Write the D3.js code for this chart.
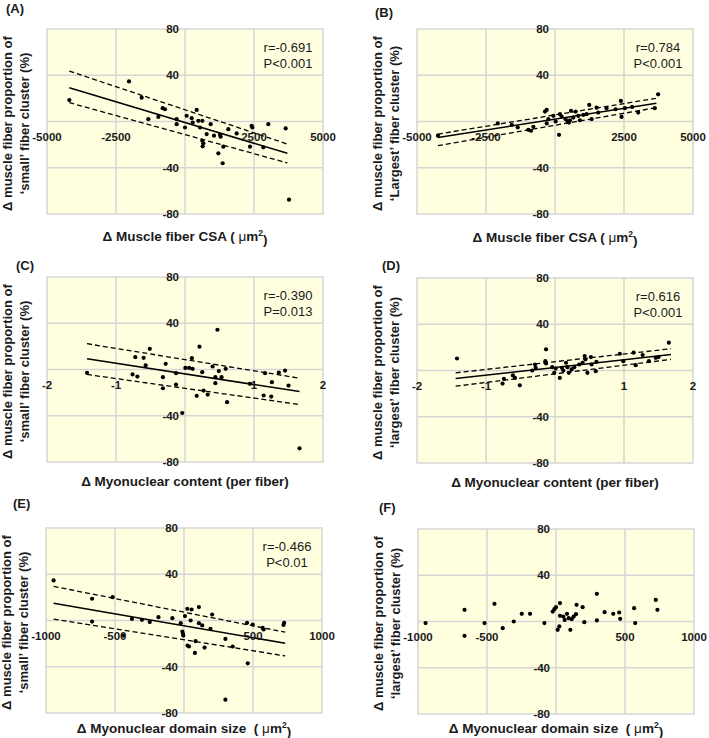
<!DOCTYPE html>
<html><head><meta charset="utf-8">
<script src="https://cdn.jsdelivr.net/npm/d3@7"></script>
<style>
html,body{margin:0;padding:0;background:#fff;}
svg text{font-family:"Liberation Sans",Arial,sans-serif;}
</style></head>
<body>
<svg id="chart" width="709" height="738"></svg>
<script>
// ---------- data ----------
const aX = [-4191,-2029,-1570,-1328,-966,-809,-725,-302,-302,0,60,242,278,423,483,543,628,785,628,664,640,930,1051,1268,1292,1389,1208,1365,1570,1872,2415,2440,2355,2838,3019,3647,3768];
const aY = [18.6,34.7,20.6,2.0,4.0,11.5,10.6,2.0,-2.3,-5.2,4.9,2.9,-0.9,10.0,0.6,-5.2,0.6,-10.9,-16.6,-18.9,-21.5,-2.3,-12.3,-11.5,-13.2,-21.8,-27.5,-36.1,-6.6,-10.3,-3.7,-5.2,-21.8,-22.3,-2.3,-6.0,-67.6];
const bX = [-4242,-2073,-1567,-1350,-964,-868,-783,-362,-301,-301,-241,-60,24,145,181,241,386,458,506,542,578,663,747,904,844,1024,1145,1241,1326,1506,1567,1868,2193,2386,2410,2531,2796,3013,3615,3736];
const bY = [-12.3,-1.7,-2.9,-5.2,-7.2,-8.0,-4.6,8.6,10.0,-1.7,2.0,4.9,0,-11.5,6.3,4.3,2.0,0,-0.9,1.1,9.2,3.4,8.6,1.1,4.9,5.7,6.3,14.3,2.0,12.0,7.7,11.5,10.6,17.8,4.0,11.5,12.6,7.7,11.5,23.5];
const cX = [-1.42,-0.76,-0.72,-0.60,-0.69,-0.57,-0.51,-0.32,-0.32,-0.28,-0.13,-0.13,-0.04,0.005,0.06,0.10,0.11,0.17,0.21,0.25,0.27,0.33,0.40,0.44,0.44,0.47,0.49,0.53,0.59,0.61,0.94,1.14,1.16,1.25,1.26,1.36,1.45,1.50,1.66];
const cY = [-2.9,-4.3,10.7,10.1,-6.1,3.5,17.9,-6.6,-16.2,4.9,-3.2,-13.0,-37.6,1.4,1.4,9.8,0.6,-22.8,19.7,-2.3,-18.2,-21.7,2.6,-6.6,-11.8,34.4,-1.4,-6.6,0.6,-28.3,-12.4,-22.5,-3.2,-23.4,-11.0,-2.6,-0.9,-13.9,-68.2];
const dX = [-1.42,-0.76,-0.74,-0.61,-0.58,-0.51,-0.29,-0.28,-0.33,-0.13,-0.14,-0.13,-0.04,-0.01,0.01,0.07,0.10,0.12,0.16,0.18,0.20,0.24,0.28,0.35,0.40,0.43,0.44,0.47,0.52,0.53,0.59,0.60,0.94,0.99,1.14,1.17,1.27,1.36,1.46,1.50,1.65];
const dY = [10.4,-11.3,-7.2,-4.3,-6.4,-12.8,5.2,2.3,0,18.3,8.1,6.1,2.9,-2.0,1.7,-6.4,2.3,0,6.7,2.9,-2.0,0.9,2.9,5.2,6.7,12.5,9.6,-2.0,11.6,5.2,-0.6,7.5,14.5,8.1,15.4,4.6,13.3,8.1,11.0,11.6,24.1];
const eX = [-945,-666,-666,-517,-440,-377,-305,-248,-185,-84,-24,-12,-7,-5,7,24,55,48,26,36,84,79,108,108,132,149,192,204,300,300,353,457,462,498,570,577,721,726];
const eY = [34.7,18.8,-0.9,20.2,-13.0,1.4,0.6,-1.4,2.9,2.0,-2.3,-9.5,-11.6,-13.0,3.8,10.1,9.5,0,-21.7,-22.5,-17.9,-28.0,11.6,-2.3,-4.3,-23.4,-7.2,5.2,-15.9,-68.5,-22.5,-2.0,-37.0,-3.5,-6.4,-7.8,-3.8,-2.0];
const fX = [-945,-663,-663,-518,-446,-386,-306,-248,-188,-84,-24,-12,0,12,24,29,29,53,63,80,92,104,113,128,145,149,193,205,296,296,352,415,458,465,566,574,723,735];
const fY = [-1.4,10.1,-12.4,-1.4,15.3,-5.8,0,6.6,6.6,-1.4,8.6,10.7,12.4,-7.2,-4.3,4.9,15.9,4.3,1.4,6.6,2.9,-7.2,2.0,4.3,6.3,14.4,12.4,-0.6,23.9,0.9,8.1,6.6,7.8,2.3,11.5,-1.4,18.7,10.1];

// regression line and confidence lines: [x start, x end], y at those ends
const aFitX = [-4191,3708], aFitY = [29.2,-27.5], aUpY = [43.6,-19.5], aLoY = [16.3,-35.8];
const bFitX = [-4242,3675], bFitY = [-13.8,15.8], bUpY = [-10.9,20.1], bLoY = [-20.9,12.0];
const cFitX = [-1.42,1.66], cFitY = [9.2,-19.1], cUpY = [22.3,-7.5], cLoY = [-4.3,-30.3];
const dFitX = [-1.44,1.68], dFitY = [-7.0,13.9], dUpY = [-2.0,18.8], dLoY = [-13.6,9.6];
const eFitX = [-945,733], eFitY = [15.0,-19.7], eUpY = [29.5,-10.1], eLoY = [1.2,-30.6];

const csaTicks = [-5000,-2500,2500,5000];
const csaGrid = [-2500,0,2500];
const nucTicks = [-2,-1,1,2];
const nucGrid = [-1,0,1];
const domTicks = [-1000,-500,500,1000];
const domGrid = [-500,0,500];
const yTicks = [80,40,-40,-80];
const yGrid = [40,0,-40];

const statA = ["r=-0.691","P<0.001"];
const statB = ["r=0.784","P<0.001"];
const statC = ["r=-0.390","P=0.013"];
const statD = ["r=0.616","P<0.001"];
const statE = ["r=-0.466","P<0.01"];

// ---------- layout ----------
const W = 276, H = 185;
const panels = [
  {lab:"(A)", left:47, top:29, dom:[-5000,5000], ticks:csaTicks, grid:csaGrid, xs:aX, ys:aY, fit:[aFitX,aFitY,aUpY,aLoY], stat:statA, y2:"\u2018small\u2019 fiber cluster (%)", xt:"csa", labPos:[6,8], xtOff:22},
  {lab:"(B)", left:417, top:29, dom:[-5000,5000], ticks:csaTicks, grid:csaGrid, xs:bX, ys:bY, fit:[bFitX,bFitY,bUpY,bLoY], stat:statB, y2:"\u2018Largest\u2019 fiber cluster (%)", xt:"csa", labPos:[375,12], xtOff:23},
  {lab:"(C)", left:47, top:277, dom:[-2,2], ticks:nucTicks, grid:nucGrid, xs:cX, ys:cY, fit:[cFitX,cFitY,cUpY,cLoY], stat:statC, y2:"\u2018small\u2019 fiber cluster (%)", xt:"nuc", labPos:[16,265], xtOff:19},
  {lab:"(D)", left:417, top:278, dom:[-2,2], ticks:nucTicks, grid:nucGrid, xs:dX, ys:dY, fit:[dFitX,dFitY,dUpY,dLoY], stat:statD, y2:"\u2018largest\u2019 fiber cluster (%)", xt:"nuc", labPos:[382,265], xtOff:19},
  {lab:"(E)", left:46, top:528, dom:[-1000,1000], ticks:domTicks, grid:domGrid, xs:eX, ys:eY, fit:[eFitX,eFitY,eUpY,eLoY], stat:statE, y2:"\u2018small\u2019 fiber cluster (%)", xt:"dom", labPos:[13,503], xtOff:15},
  {lab:"(F)", left:418, top:529, dom:[-1000,1000], ticks:domTicks, grid:domGrid, xs:fX, ys:fY, fit:null, stat:null, y2:"\u2018largest\u2019 fiber cluster (%)", xt:"dom", labPos:[379,507], xtOff:14}
];

const svg = d3.select("#chart");
const GRID = "#d6d6d6";
const TXT = "#1a1a1a";

panels.forEach(p => {
  const x = d3.scaleLinear().domain(p.dom).range([p.left, p.left + W]);
  const y = d3.scaleLinear().domain([-80, 80]).range([p.top + H, p.top]);
  const g = svg.append("g");

  g.append("rect").attr("x", p.left).attr("y", p.top).attr("width", W).attr("height", H)
    .attr("fill", "#ffffe0").attr("stroke", GRID).attr("stroke-width", 1.5);

  g.selectAll(".vg").data(p.grid).join("line")
    .attr("x1", d => x(d)).attr("x2", d => x(d)).attr("y1", p.top).attr("y2", p.top + H)
    .attr("stroke", GRID).attr("stroke-width", 1.5);
  g.selectAll(".hg").data(yGrid).join("line")
    .attr("y1", d => y(d)).attr("y2", d => y(d)).attr("x1", p.left).attr("x2", p.left + W)
    .attr("stroke", GRID).attr("stroke-width", 1.5);

  // y tick labels next to the x=0 axis
  g.selectAll(".yl").data(yTicks).join("text")
    .attr("x", x(0) - 6).attr("y", d => y(d)).attr("dy", "0.36em")
    .attr("text-anchor", "end").attr("font-size", 11.5).attr("font-weight", "bold").attr("fill", TXT)
    .text(d => d);

  // fit lines
  if (p.fit) {
    const [fx, fy, fu, fl] = p.fit;
    const line = d3.line().x(d => x(d[0])).y(d => y(d[1]));
    g.append("path").attr("d", line(d3.zip(fx, fu))).attr("fill", "none").attr("stroke", "#000")
      .attr("stroke-width", 1.3).attr("stroke-dasharray", "5,3");
    g.append("path").attr("d", line(d3.zip(fx, fl))).attr("fill", "none").attr("stroke", "#000")
      .attr("stroke-width", 1.3).attr("stroke-dasharray", "5,3");
    g.append("path").attr("d", line(d3.zip(fx, fy))).attr("fill", "none").attr("stroke", "#000")
      .attr("stroke-width", 1.5);
  }

  // points
  g.selectAll(".pt").data(d3.zip(p.xs, p.ys)).join("circle")
    .attr("cx", d => x(d[0])).attr("cy", d => y(d[1])).attr("r", 2.1).attr("fill", "#000");

  // x tick labels below the y=0 axis
  g.selectAll(".xl").data(p.ticks).join("text")
    .attr("x", d => x(d)).attr("y", y(0) + 15).attr("dy", "0.36em")
    .attr("text-anchor", "middle").attr("font-size", 11.5).attr("font-weight", "bold").attr("fill", TXT)
    .text(d => d);

  // stats
  if (p.stat) {
    g.selectAll(".st").data(p.stat).join("text")
      .attr("x", p.left + 241).attr("y", (d, i) => p.top + 18 + i * 16).attr("dy", "0.36em")
      .attr("text-anchor", "middle").attr("font-size", 13).attr("fill", TXT)
      .text(d => d);
  }

  // panel label
  g.append("text").attr("x", p.labPos[0]).attr("y", p.labPos[1]).attr("dy", "0.36em")
    .attr("font-size", 13).attr("font-weight", "bold").attr("fill", TXT).text(p.lab);

  // y title (two lines)
  const cy = p.top + H / 2 + 2;
  [["\u0394 muscle fiber proportion of", 40], [p.y2, 23]].forEach(([t, off]) => {
    g.append("text").attr("transform", `translate(${p.left - off},${cy}) rotate(-90)`)
      .attr("dy", "0.36em").attr("text-anchor", "middle")
      .attr("font-size", 13).attr("font-weight", "bold").attr("fill", TXT).text(t);
  });

  // x title
  const xt = g.append("text").attr("x", p.left + W / 2).attr("y", p.top + H + p.xtOff).attr("dy", "0.36em")
    .attr("text-anchor", "middle").attr("font-size", 13.5).attr("font-weight", "bold").attr("fill", TXT)
    .style("white-space", "pre");
  if (p.xt === "nuc") {
    xt.text("\u0394 Myonuclear content (per fiber)");
  } else {
    xt.append("tspan").text(p.xt === "csa" ? "\u0394 Muscle fiber CSA ( " : "\u0394 Myonuclear domain size  ( ");
    xt.append("tspan").attr("font-weight", "normal").text("\u03bc");
    xt.append("tspan").text("m");
    xt.append("tspan").attr("font-size", 8.5).attr("dy", "-0.55em").text("2");
    xt.append("tspan").attr("dy", "0.55em").text(")");
  }
});
</script>
</body></html>
